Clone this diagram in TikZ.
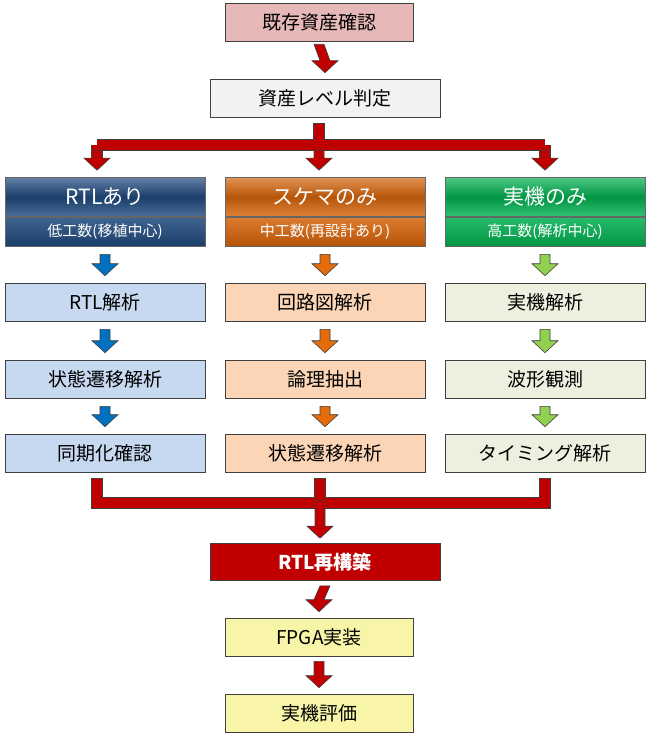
\documentclass[tikz,border=0pt]{standalone}
\usepackage{fontspec}
\setmainfont{Noto Sans CJK JP}
\usetikzlibrary{calc, positioning}
\definecolor{flow_red}{RGB}{192, 0, 0}
\definecolor{top_pink}{RGB}{230, 185, 184}
\definecolor{mid_gray}{RGB}{242, 242, 242}
\definecolor{fpga_yel}{RGB}{248, 244, 168}
\definecolor{col_blue}{RGB}{31, 73, 125}
\definecolor{col_bluel}{RGB}{198, 217, 240}
\definecolor{col_bluea}{RGB}{0, 112, 192}
\definecolor{col_org}{RGB}{214, 100, 10}
\definecolor{col_orgl}{RGB}{251, 213, 181}
\definecolor{col_orga}{RGB}{228, 108, 10}
\definecolor{col_grn}{RGB}{0, 176, 80}
\definecolor{col_grnl}{RGB}{235, 241, 222}
\definecolor{col_grna}{RGB}{146, 208, 80}
% block arrow between two points, pointing down
\newcommand{\blk}[3]{%
  \fill[#1, draw=black!75, line width=0.6pt]
    ($(#2)+(-5,0)$) -- ($(#3)+(-5,-12)$) -- ($(#3)+(-13,-12)$) -- (#3)
    -- ($(#3)+(13,-12)$) -- ($(#3)+(5,-12)$) -- ($(#2)+(5,0)$) -- cycle;}
\begin{document}
\begin{tikzpicture}[x=1pt, y=-1pt,
    box/.style={draw=black!75, line width=0.6pt, minimum height=38pt,
                inner sep=0pt, font=\fontsize{19}{19}\selectfont},
    colbox/.style={box, minimum width=200pt},
    head/.style={draw=black!60, line width=0.6pt, minimum width=200pt,
                 minimum height=39pt, inner sep=0pt, text=white,
                 font=\fontsize{21}{21}\selectfont},
    sub/.style={draw=black!60, line width=0.6pt, minimum width=200pt,
                minimum height=29pt, inner sep=0pt, text=white,
                font=\fontsize{15}{15}\selectfont},
    bar/.style={line width=12pt, draw=black!75},
    barin/.style={line width=10.8pt, draw=flow_red},
  ]
  \useasboundingbox (0,0) rectangle (648,738);
  \node[box, fill=top_pink, minimum width=188pt] (check) at (319,22) {既存資産確認};
  \node[box, fill=mid_gray, minimum width=230pt] (level) at (325,98) {資産レベル判定};
  % columns
  \foreach \n/\x/\bc/\lc/\ac/\h/\s/\a/\b/\c in {
      rtl/105/col_blue/col_bluel/col_bluea/RTLあり/低工数(移植中心)/RTL解析/状態遷移解析/同期化確認,
      sch/325/col_org/col_orgl/col_orga/スケマのみ/中工数(再設計あり)/回路図解析/論理抽出/状態遷移解析,
      hw/545/col_grn/col_grnl/col_grna/実機のみ/高工数(解析中心)/実機解析/波形観測/タイミング解析} {
    \node[head, top color=\bc!70!white, bottom color=\bc!80!white, middle color=\bc!85!black] (\n h) at (\x,197) {\h};
    \node[sub, top color=\bc!85!white, bottom color=\bc!85!black, below=0pt of \n h] (\n s) {\s};
    \node[colbox, fill=\lc] (\n1) at (\x,302) {\a};
    \node[colbox, fill=\lc] (\n2) at (\x,379) {\b};
    \node[colbox, fill=\lc] (\n3) at (\x,453) {\c};
    \blk{\ac}{$(\n s.south)+(0,8)$}{$(\n1.north)+(0,-7)$}
    \blk{\ac}{$(\n1.south)+(0,8)$}{$(\n2.north)+(0,-7)$}
    \blk{\ac}{$(\n2.south)+(0,8)$}{$(\n3.north)+(0,-7)$}
  }
  \node[box, fill=flow_red, text=white, minimum width=230pt, minimum height=37pt,
        font=\bfseries\fontsize{19}{19}\selectfont] (rebuild) at (325,562) {RTL再構築};
  \node[box, fill=fpga_yel, minimum width=188pt] (fpga) at (319,637) {FPGA実装};
  \node[box, fill=fpga_yel, minimum width=188pt] (eval) at (319,713) {実機評価};
  \blk{flow_red}{$(check.south)+(0,3)$}{$(level.north)+(0,-6)$}
  \blk{flow_red}{$(rebuild.south)+(0,5)$}{$(fpga.north)+(0,-6)$}
  \blk{flow_red}{$(fpga.south)+(0,5)$}{$(eval.north)+(0,-6)$}
  % branch
  \coordinate (bsplit) at (319,145);
  \coordinate (bl) at (97,145);
  \coordinate (br) at (545,145);
  \draw[bar] ($(level.south)+(-6,6)$) -- (bsplit);
  \draw[bar] (bl) -- (br);
  \draw[bar] (bl) -- (97,160); \draw[bar] (br) -- (545,160);
  \draw[barin] ($(level.south)+(-6,6.5)$) -- (bsplit);
  \draw[barin] (bl) -- (br);
  \draw[barin] (bl) -- (97,159); \draw[barin] (br) -- (545,159);
  \blk{flow_red}{97,150}{$(rtlh.north)+(-8,-7)$}
  \blk{flow_red}{319,150}{$(schh.north)+(-6,-7)$}
  \blk{flow_red}{545,150}{$(hwh.north)+(0,-7)$}
  % merge
  \coordinate (ml) at (97,503);
  \coordinate (mr) at (545,503);
  \coordinate (mc) at (320,503);
  \draw[bar] ($(rtl3.south)+(-8,6)$) -- (ml) -- (mr) -- ($(hw3.south)+(0,6)$);
  \draw[bar] ($(sch3.south)+(-5,6)$) -- (mc);
  \draw[barin] ($(rtl3.south)+(-8,6.6)$) -- (ml) -- (mr) -- ($(hw3.south)+(0,6.6)$);
  \draw[barin] ($(sch3.south)+(-5,6.6)$) -- (mc);
  \blk{flow_red}{320,500}{$(rebuild.north)+(-5,-5)$}
\end{tikzpicture}
\end{document}
